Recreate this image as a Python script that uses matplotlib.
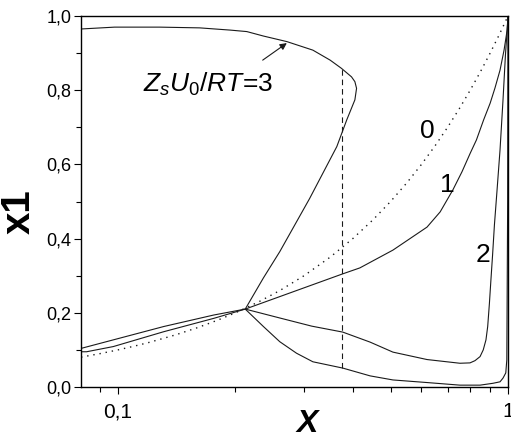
import numpy as np
import matplotlib
matplotlib.use('Agg')
import matplotlib.pyplot as plt
from matplotlib.ticker import FixedLocator, FuncFormatter, NullFormatter

plt.rcParams['font.family'] = ['Liberation Sans', 'DejaVu Sans']
plt.rcParams['mathtext.fontset'] = 'custom'
plt.rcParams['mathtext.rm'] = 'Liberation Sans'
plt.rcParams['mathtext.it'] = 'Liberation Sans:italic'

# curve 0: x1 = X (dotted)
x0 = [0.0804, 0.09, 0.1, 0.11, 0.12, 0.14, 0.16, 0.18, 0.2, 0.23, 0.26, 0.3, 0.35, 0.4, 0.45,
      0.5, 0.55, 0.6, 0.65, 0.7, 0.75, 0.8, 0.85, 0.9, 0.95, 1.0]
y0 = list(x0)

# curve 1
x_c1 = [0.0804, 0.0831, 0.0973, 0.131, 0.176, 0.212, 0.377, 0.417, 0.507, 0.62, 0.67, 0.722,
        0.762, 0.80, 0.83, 0.866, 0.90, 0.926, 0.954, 0.977, 0.995, 1.0]
y_c1 = [0.095, 0.095, 0.109, 0.149, 0.185, 0.21, 0.305, 0.321, 0.369, 0.431, 0.472, 0.531,
        0.58, 0.63, 0.666, 0.72, 0.765, 0.806, 0.854, 0.908, 0.962, 1.0]

# curve 2
x_c2 = [0.0804, 0.131, 0.176, 0.212, 0.26, 0.314, 0.377, 0.443, 0.507, 0.62, 0.753, 0.799, 0.823,
        0.848, 0.864, 0.878, 0.887, 0.896, 0.904, 0.913, 0.923, 0.937, 0.954, 0.971, 0.985, 0.995,
        1.0]
y_c2 = [0.104, 0.163, 0.194, 0.21, 0.186, 0.164, 0.148, 0.121, 0.094, 0.074, 0.064, 0.065, 0.071,
        0.082, 0.10, 0.127, 0.163, 0.225, 0.288, 0.356, 0.437, 0.528, 0.639, 0.774, 0.895, 0.962,
        1.0]

# curve 3 (S-shaped, ZsU0/RT = 3)
x_c3 = [0.0804, 0.098, 0.128, 0.162, 0.194, 0.214, 0.236, 0.271, 0.316, 0.35, 0.374, 0.397, 0.405,
        0.409, 0.405, 0.386, 0.364, 0.31, 0.26, 0.236, 0.212,
        0.236, 0.26, 0.287, 0.316, 0.377, 0.443, 0.507, 0.62, 0.753, 0.848, 0.915, 0.954, 0.971,
        0.987, 0.993, 0.998, 1.0]
y_c3 = [0.965, 0.970, 0.970, 0.968, 0.962, 0.958, 0.946, 0.931, 0.908, 0.881, 0.859, 0.836, 0.823,
        0.805, 0.774, 0.72, 0.648, 0.508, 0.365, 0.294, 0.21,
        0.163, 0.122, 0.091, 0.068, 0.051, 0.030, 0.019, 0.012, 0.005, 0.005, 0.01, 0.014, 0.024,
        0.038, 0.073, 0.5, 1.0]

# vertical dashed line
x_dash = [0.375, 0.375]
y_dash = [0.051, 0.86]

y_major = [0.0, 0.2, 0.4, 0.6, 0.8, 1.0]
y_minor = [0.1, 0.3, 0.5, 0.7, 0.9]
x_major = [0.1, 1.0]
x_minor = [0.09, 0.2, 0.3, 0.4, 0.5, 0.6, 0.7, 0.8, 0.9]

fig = plt.figure(figsize=(5.11, 4.38), dpi=100)
ax = fig.add_axes([81 / 511, 51 / 438, 427 / 511, 371 / 438])

lc = '#1a1a1a'
ax.plot(x0, y0, color=lc, lw=1.0, linestyle=(0, (1, 3.5)))
ax.plot(x_c1, y_c1, color=lc, lw=0.8)
ax.plot(x_c2, y_c2, color=lc, lw=0.8)
ax.plot(x_c3, y_c3, color=lc, lw=0.8)
ax.plot(x_dash, y_dash, color=lc, lw=0.8, linestyle=(0, (5, 3.5)))

ax.set_xscale('log')
ax.set_xlim(0.0804, 1.0)
ax.set_ylim(0, 1.0)

ax.xaxis.set_major_locator(FixedLocator(x_major))
ax.xaxis.set_minor_locator(FixedLocator(x_minor))
ax.xaxis.set_major_formatter(FuncFormatter(lambda v, p: ('%g' % v).replace('.', ',')))
ax.xaxis.set_minor_formatter(NullFormatter())
ax.yaxis.set_major_locator(FixedLocator(y_major))
ax.yaxis.set_minor_locator(FixedLocator(y_minor))
ax.yaxis.set_major_formatter(FuncFormatter(lambda v, p: ('%.1f' % v).replace('.', ',')))

ax.tick_params(axis='both', which='major', direction='out', length=5, width=0.8)
ax.tick_params(axis='both', which='minor', direction='out', length=3.5, width=0.8)
ax.tick_params(axis='y', labelsize=13, pad=2)
ax.tick_params(axis='x', labelsize=15, pad=6)
for s in ax.spines.values():
    s.set_linewidth(1.0)

# curve labels
ax.text(0.62, 0.69, '0', fontsize=19, ha='center', va='center')
ax.text(0.70, 0.545, '1', fontsize=19, ha='center', va='center')
ax.text(0.862, 0.355, '2', fontsize=19, ha='center', va='center')

ax.text(0.116, 0.795, r'$Z_sU_0/RT$=3', fontsize=19, ha='left', va='baseline')
ax.annotate('', xy=(0.271, 0.927), xytext=(0.235, 0.881),
            arrowprops=dict(arrowstyle='-|>', color=lc, lw=0.8, mutation_scale=10,
                            shrinkA=0, shrinkB=0))

fig.text(307 / 511, 1 - 432 / 438, 'X', fontsize=23, fontweight='bold', fontstyle='italic',
         ha='center', va='baseline')
fig.text(19 / 511, 1 - 212 / 438, 'x1', fontsize=29, fontweight='bold', rotation=90,
         ha='center', va='center')

fig.savefig('out.png', dpi=100)
